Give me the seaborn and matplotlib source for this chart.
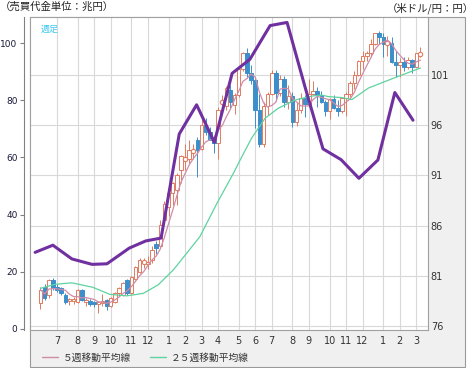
import numpy as np
import pandas as pd
import matplotlib
matplotlib.use("Agg")
import matplotlib.pyplot as plt
import seaborn as sns
from matplotlib.patches import Rectangle
from matplotlib.lines import Line2D

sns.set_style("white")
plt.rcParams["font.family"] = ["DejaVu Sans", "Noto Sans CJK JP"]

# ------------------------------------------------------------
# Data (weekly USD/JPY candles, week 0 = first week of June 2012)
# ------------------------------------------------------------
opens = [78.3, 79.9, 79.1, 80.6, 79.9, 79.8, 79.1, 78.5, 78.5, 78.4,
         79.6, 78.4, 78.5, 78.4, 78.2, 78.3, 78.6, 78.0, 78.4, 79.3,
         79.1, 80.6, 79.3, 80.7, 81.4, 82.3, 82.2, 82.6, 84.2, 84.0,
         86.6, 87.9, 89.2, 89.5, 91.5, 92.7, 92.6, 93.5, 94.5, 93.6,
         96.0, 95.3, 94.5, 94.2, 98.2, 97.9, 99.5, 98.0, 99.0, 101.6,
         103.2, 101.2, 100.5, 97.5, 94.1, 97.9, 99.1, 101.2, 99.2, 100.6,
         98.3, 98.9, 96.3, 97.5, 98.7, 98.1, 99.1, 99.4, 99.0, 98.3,
         97.4, 98.6, 97.7, 97.4, 98.7, 99.1, 100.2, 101.0, 102.4, 102.9,
         103.2, 104.1, 105.2, 104.8, 104.1, 104.2, 102.3, 102.0, 102.3, 101.8,
         102.5, 101.8, 103.2]
highs = [79.9, 80.2, 80.7, 80.8, 80.2, 79.9, 79.3, 78.8, 78.9, 79.7,
         79.7, 78.8, 78.7, 78.5, 78.5, 79.2, 78.7, 78.9, 79.4, 79.9,
         80.4, 80.7, 81.0, 82.0, 82.8, 82.8, 83.0, 84.0, 84.5, 86.6,
         88.5, 89.5, 90.3, 91.2, 93.0, 94.1, 94.5, 94.1, 94.8, 96.6,
         96.7, 95.8, 94.9, 97.8, 99.0, 99.9, 100.0, 99.2, 101.9, 103.3,
         103.7, 102.0, 100.8, 99.1, 98.3, 99.3, 101.5, 101.5, 101.0, 100.9,
         100.0, 99.3, 98.3, 99.2, 99.0, 100.6, 100.4, 99.8, 99.4, 98.5,
         98.7, 99.0, 98.5, 98.8, 99.3, 100.4, 101.4, 102.5, 103.4, 103.4,
         104.6, 105.2, 105.4, 105.2, 104.9, 104.8, 103.4, 102.7, 102.8, 102.8,
         102.6, 103.2, 103.8]
lows = [77.7, 78.6, 78.8, 79.6, 79.4, 79.1, 78.2, 78.1, 78.2, 78.3,
        78.5, 78.0, 78.0, 77.9, 77.3, 78.0, 77.6, 77.9, 78.3, 79.0,
        79.0, 79.1, 79.2, 80.6, 81.3, 81.8, 81.7, 82.3, 83.2, 83.9,
        86.3, 87.0, 88.1, 88.1, 90.2, 91.5, 92.2, 92.6, 90.8, 93.5,
        95.0, 94.5, 93.2, 92.6, 97.2, 97.5, 97.7, 97.1, 98.8, 101.4,
        100.7, 100.1, 95.7, 93.8, 93.8, 97.0, 99.0, 98.4, 98.9, 97.8,
        97.6, 95.8, 95.9, 97.2, 96.8, 97.8, 99.0, 97.8, 98.2, 96.9,
        96.6, 97.6, 96.9, 97.2, 96.9, 98.8, 99.6, 100.9, 101.6, 102.4,
        102.8, 104.0, 104.1, 102.8, 102.9, 102.2, 100.8, 100.8, 101.4, 101.6,
        101.2, 101.8, 102.8]
closes = [79.6, 78.8, 80.6, 79.9, 79.6, 79.3, 78.4, 78.65, 78.7, 79.6,
          78.6, 78.6, 78.2, 78.2, 78.4, 78.5, 78.0, 78.8, 79.3, 79.8,
          80.3, 79.3, 80.9, 81.9, 82.6, 82.4, 82.4, 83.6, 83.8, 86.1,
          88.2, 89.2, 90.2, 91.0, 92.9, 92.6, 93.5, 93.4, 93.5, 96.0,
          95.3, 94.5, 94.2, 97.5, 98.3, 99.7, 98.3, 99.0, 101.6, 103.2,
          101.2, 100.5, 97.5, 94.1, 97.9, 99.1, 101.2, 99.2, 100.6, 98.3,
          98.9, 96.3, 97.5, 98.7, 98.1, 99.1, 99.4, 99.0, 98.3, 97.4,
          98.6, 97.7, 97.4, 98.7, 99.1, 100.2, 101.0, 102.4, 102.9, 103.2,
          104.1, 105.2, 104.8, 104.1, 104.2, 102.3, 102.0, 102.3, 101.8, 102.5,
          101.8, 103.2, 103.1]

# 25-week moving average
ma25_weeks = [0, 3.5, 7.6, 12.7, 16.8, 20.9, 24.9, 28.5, 32.2, 35.4, 38.6,
              42.7, 46.7, 48.3, 51.1, 54.4, 57.6, 61.6, 65.7, 68.1, 69.7,
              73, 75.4, 79.4, 83.4, 87.5, 92]
ma25_values = [79.75, 80.15, 80.3, 79.85, 79.15, 79.0, 79.25, 80.1, 81.6, 83.25,
               84.9, 88.2, 91.2, 92.5, 94.7, 96.7, 97.7, 98.5, 98.9, 99.0,
               98.85, 98.75, 98.55, 99.7, 100.35, 101.0, 101.7]

# monthly trading value (trillion yen), left axis
value_weeks = [-1.3, 3.0, 7.6, 12.5, 16.1, 21.5, 25.5, 29.2, 33.6, 37.8, 42.1,
               46.4, 50.7, 55.6, 59.7, 64.0, 68.4, 72.8, 77.1, 81.7, 85.8, 90.2]
value_trn = [26.8, 29.3, 24.5, 22.6, 22.8, 28.3, 30.8, 31.8, 68.2, 78.4, 65.3,
             89.4, 94.3, 106.1, 107.2, 84.9, 63.0, 59.2, 52.7, 59.1, 82.7, 73.0]

month_weeks = [4, 9, 13, 17, 22, 26, 31, 35, 39, 43, 48, 52, 56, 61, 65, 70, 74, 78, 83, 87, 91]
month_labels = ["7", "8", "9", "10", "11", "12", "1", "2", "3", "4", "5",
                "6", "7", "8", "9", "10", "11", "12", "1", "2", "3"]

left_ticks = [0, 20, 40, 60, 80, 100]
right_ticks = [76, 81, 86, 91, 96, 101]

# ------------------------------------------------------------
# Colors
# ------------------------------------------------------------
UP = "#E27A5E"
DOWN = "#3D8FCB"
PINK = "#D08CA8"
GREEN = "#5ED3A0"
PURPLE = "#7030A0"
GRID = "#D9D9D9"

df = pd.DataFrame({"week": np.arange(len(closes)), "open": opens, "high": highs,
                   "low": lows, "close": closes})
df["ma5"] = df["close"].rolling(5, min_periods=1).mean()
df["up"] = df["close"] >= df["open"]
df["doji"] = (df["close"] - df["open"]).abs() <= 0.15

# ------------------------------------------------------------
# Figure
# ------------------------------------------------------------
W, H = 475, 368
fig = plt.figure(figsize=(W / 100, H / 100), dpi=100)
fig.patches.append(Rectangle((30 / W, 1 / H), 435 / W, 350 / H, transform=fig.transFigure,
                             facecolor="#F0F0F0", edgecolor="#9A9A9A", lw=0.8, zorder=-1))

ax = fig.add_axes([30 / W, 38 / H, 398 / W, 313 / H])
ax2 = ax.twinx()
ax.set_zorder(2)
ax2.set_zorder(1)
ax.patch.set_visible(False)
ax2.patch.set_visible(True)
ax2.patch.set_facecolor("white")

ax.set_xlim(-2.54, 93.83)
ax.set_ylim(-0.35, 109.1)
ax2.set_ylim(75.6, 106.78)

# grid
ax2.set_yticks(right_ticks)
ax2.set_axisbelow(True)
ax2.grid(axis="y", color=GRID, lw=0.8)
for w in month_weeks:
    ax2.axvline(w, color=GRID, lw=0.8, zorder=0.5)

# candles
for is_up, face, edge in [(True, "white", UP), (False, DOWN, DOWN)]:
    sub = df[(df["up"] == is_up) & ~df["doji"]]
    ax2.vlines(sub["week"], sub["low"], sub["high"], color=edge, lw=0.7, zorder=2.5)
    body_lo = np.minimum(sub["open"], sub["close"])
    body_h = (sub["close"] - sub["open"]).abs()
    ax2.bar(sub["week"], body_h, bottom=body_lo, width=0.85, facecolor=face,
            edgecolor=edge, lw=0.7, zorder=3)
dj = df[df["doji"]]
ax2.vlines(dj["week"], dj["low"], dj["high"], color=UP, lw=0.7, zorder=2.5)
ax2.scatter(dj["week"], dj["close"], s=10, marker="o", facecolor="white",
            edgecolor=UP, lw=0.8, zorder=4)

# moving averages
sns.lineplot(data=df, x="week", y="ma5", ax=ax2, color=PINK, lw=0.9, zorder=4)
sns.lineplot(x=ma25_weeks, y=ma25_values, ax=ax2, color=GREEN, lw=0.9, zorder=4)

# trading value line
sns.lineplot(x=value_weeks, y=value_trn, ax=ax, color=PURPLE, lw=2.2, zorder=5, sort=False)

# axes styling
ax.set_yticks(left_ticks)
ax.set_xticks(month_weeks)
ax.set_xticklabels(month_labels)
ax.set_xlabel("")
ax.set_ylabel("")
ax2.set_ylabel("")
for s in ["top", "right", "bottom"]:
    ax.spines[s].set_visible(False)
ax.spines["left"].set_position(("outward", 4))
ax.spines["left"].set_color("#808080")
ax.spines["left"].set_linewidth(0.8)
ax.tick_params(axis="y", length=3, width=0.8, color="#808080", pad=2,
               labelsize=6.5, labelcolor="#1A1A3A")
ax.tick_params(axis="x", length=0, pad=4, labelsize=7, labelcolor="#333333")
for s in ax2.spines.values():
    s.set_color("#A0A0A0")
    s.set_linewidth(0.8)
ax2.tick_params(axis="y", length=0, pad=2, labelsize=7, labelcolor="#333333")

# texts
ax.text(0.05, 0.975, "週足", transform=ax.transAxes, ha="center", va="top",
        fontsize=6.5, color="#3CC8F0", family=["Noto Sans CJK JP"])
fig.text(0.0, 1 - 2 / H, "（売買代金単位：兆円）", ha="left", va="top", fontsize=7.5,
         color="#222222", family=["Noto Sans CJK JP"])
fig.text(1 - 1 / W, 1 - 2 / H, "（米ドル/円：円）", ha="right", va="top", fontsize=7.5,
         color="#222222", family=["Noto Sans CJK JP"])

handles = [Line2D([], [], color=PINK, lw=1), Line2D([], [], color=GREEN, lw=1)]
fig.legend(handles, ["５週移動平均線", "２５週移動平均線"], loc="center left",
           bbox_to_anchor=(42 / W, 10.5 / H), ncol=2, frameon=False,
           handlelength=1.6, handletextpad=0.5, columnspacing=2.0, borderpad=0,
           borderaxespad=0, labelcolor="#333333", prop={"family": ["Noto Sans CJK JP"], "size": 7})

fig.savefig("out.png", dpi=100)
